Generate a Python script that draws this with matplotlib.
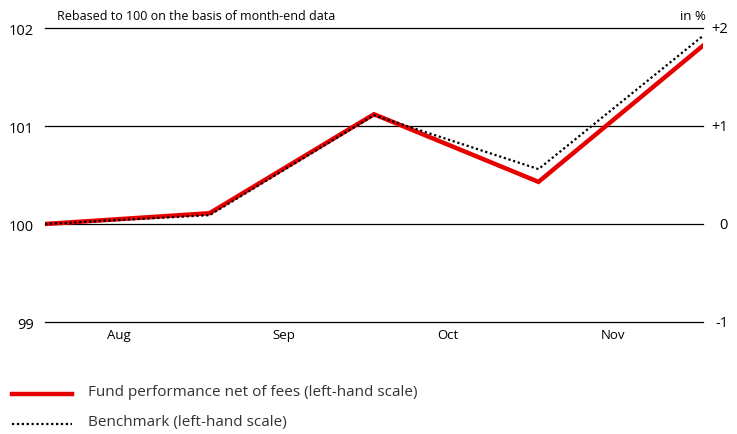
import numpy as np
from matplotlib import pyplot as plt
from matplotlib.lines import Line2D

plt.rcParams['font.family'] = ['Open Sans', 'DejaVu Sans']

months = ['Aug', 'Sep', 'Oct', 'Nov']
fund = [100.0, 100.11, 101.12, 100.43, 101.82]
benchmark = [100.0, 100.09, 101.11, 100.56, 101.92]
left_ticks = [99, 100, 101, 102]
right_labels = ['-1', '0', '+1', '+2']

W, H = 737, 435
fig = plt.figure(figsize=(W / 100, H / 100), dpi=100)
ax = fig.add_axes([45 / W, 1 - 323 / H, (703 - 45) / W, (323 - 29) / H])

x = np.arange(len(fund))
for v in left_ticks:
    ax.axhline(v, color='black', lw=0.9, zorder=1, clip_on=False)
ax.plot(x, fund, color='#e60000', lw=3.2, solid_joinstyle='miter', zorder=3)
ax.plot(x, benchmark, color='black', lw=1.6, ls=(0, (1, 1.2)), zorder=4)

ax.set_xlim(0, 4)
ax.set_ylim(99, 102)
for s in ax.spines.values():
    s.set_visible(False)
ax.set_yticks(left_ticks)
ax.set_yticklabels([str(v) for v in left_ticks], fontsize=10.5)
ax.tick_params(axis='y', length=0, pad=8)
ax.set_xticks(np.arange(len(months)) + 0.45)
ax.set_xticklabels(months, fontsize=9.5)
ax.tick_params(axis='x', length=0, pad=4)

# right-hand scale labels
for v, lab in zip(left_ticks, right_labels):
    ax.annotate(lab, xy=(1, v), xycoords=('axes fraction', 'data'),
                xytext=(18, 0), textcoords='offset points',
                ha='right', va='center', fontsize=10.5, annotation_clip=False)

fig.text(57 / W, 1 - 17 / H, 'Rebased to 100 on the basis of month-end data',
         fontsize=9, va='center', ha='left')
fig.text(706 / W, 1 - 17 / H, 'in %', fontsize=9.5, va='center', ha='right')

fig.add_artist(Line2D([12 / W, 72 / W], [1 - 395 / H] * 2, color='#e60000', lw=3.2))
fig.add_artist(Line2D([12 / W, 72 / W], [1 - 425 / H] * 2, color='black', lw=1.6,
                      ls=(0, (1, 1.2))))
fig.text(88 / W, 1 - 393 / H, 'Fund performance net of fees (left-hand scale)',
         fontsize=11, va='center', ha='left', color='#333333')
fig.text(88 / W, 1 - 423 / H, 'Benchmark (left-hand scale)',
         fontsize=11, va='center', ha='left', color='#333333')

fig.savefig('out.png', dpi=100)
